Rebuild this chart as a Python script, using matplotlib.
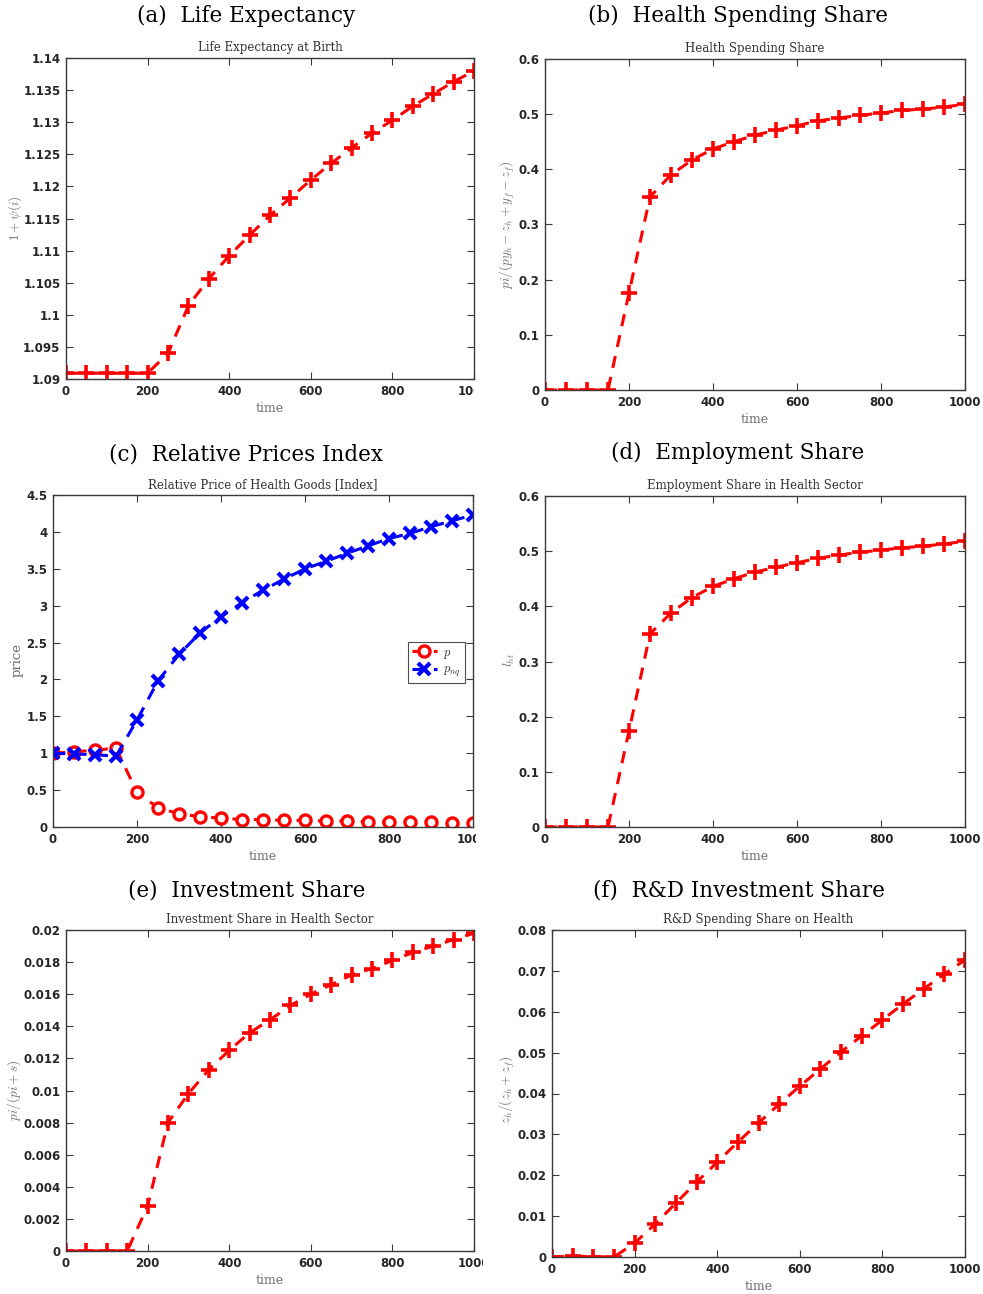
import matplotlib
matplotlib.use('Agg')
import matplotlib.pyplot as plt
from matplotlib.transforms import Bbox

plt.rcParams['mathtext.fontset'] = 'cm'

time = [0, 50, 100, 150, 200, 250, 300, 350, 400, 450, 500, 550, 600, 650, 700,
        750, 800, 850, 900, 950, 1000]

life_exp = [1.0909, 1.0909, 1.0909, 1.0909, 1.0909, 1.0940, 1.1014, 1.1056, 1.1092,
            1.1124, 1.1155, 1.1182, 1.1210, 1.1236, 1.1260, 1.1283, 1.1303, 1.1325,
            1.1344, 1.1363, 1.1380]

health_share = [0, 0, 0, 0, 0.176, 0.350, 0.390, 0.417, 0.437, 0.450, 0.462, 0.471,
                0.479, 0.488, 0.493, 0.498, 0.502, 0.507, 0.509, 0.513, 0.518]

price_p = [1.0, 1.02, 1.04, 1.07, 0.47, 0.26, 0.18, 0.14, 0.12, 0.10, 0.10, 0.09, 0.09,
           0.08, 0.08, 0.07, 0.07, 0.07, 0.07, 0.06, 0.06]

price_pnq = [1.0, 0.99, 0.98, 0.96, 1.45, 1.98, 2.34, 2.63, 2.85, 3.04, 3.21, 3.36, 3.50,
             3.60, 3.71, 3.81, 3.91, 3.98, 4.07, 4.15, 4.23]

emp_share = [0, 0, 0, 0, 0.174, 0.350, 0.388, 0.416, 0.436, 0.450, 0.462, 0.471,
             0.479, 0.487, 0.493, 0.498, 0.502, 0.506, 0.509, 0.513, 0.518]

inv_share = [0, 0, 0, 0, 0.0028, 0.0080, 0.0098, 0.0113, 0.0125, 0.0136, 0.0144, 0.0153,
             0.0160, 0.0166, 0.0172, 0.0176, 0.0181, 0.0186, 0.0190, 0.0194, 0.0198]

rd_share = [0, 0.0002, 0.0001, 0, 0.0034, 0.0081, 0.0132, 0.0183, 0.0232, 0.0281, 0.0328,
            0.0374, 0.0418, 0.0460, 0.0502, 0.0541, 0.0580, 0.0619, 0.0656, 0.0692, 0.0727]

W, H = 983, 1294
fig = plt.figure(figsize=(W / 100, H / 100), dpi=100)

tick_col = '#262626'
lab_col = '#707070'


def make_ax(x0, y0, x1, y1):
    return fig.add_axes([x0 / W, 1 - y1 / H, (x1 - x0) / W, (y1 - y0) / H])


def style(ax, sub, ylab, ylim, yticks, yticklabels, ylab_xy, clip_x=None):
    ax.set_xlim(0, 1000)
    ax.set_ylim(*ylim)
    ax.set_xticks([0, 200, 400, 600, 800, 1000])
    ax.set_xticklabels(['0', '200', '400', '600', '800', '1000'])
    ax.set_yticks(yticks)
    ax.set_yticklabels(yticklabels)
    ax.tick_params(direction='in', length=5, width=0.8, top=True, right=True,
                   colors='#3a3a3a', labelcolor=tick_col, labelsize=8.5, pad=4)
    for lab in ax.get_xticklabels() + ax.get_yticklabels():
        lab.set_fontweight('bold')
        lab.set_family('DejaVu Sans')
    for s in ax.spines.values():
        s.set_color('#3a3a3a')
        s.set_linewidth(1.0)
    ax.set_title(sub, fontsize=8.5, family='DejaVu Serif', color='#333333', pad=5)
    ax.set_xlabel('time', fontsize=9, family='DejaVu Serif', color=lab_col, labelpad=3)
    ax.set_ylabel(ylab, fontsize=9.5, color=lab_col, va='center')
    ax.yaxis.set_label_coords(ylab_xy[0] / W, 1 - ylab_xy[1] / H, transform=fig.transFigure)
    if clip_x is not None:
        t = ax.xaxis.get_major_ticks()[-1].label1
        t.set_clip_on(True)
        t.set_clip_box(Bbox.from_extents(0, 0, clip_x, H))


dash = (4.0, 3.0)
line_kw = dict(color='red', linestyle='--', dashes=dash, linewidth=2.2,
               marker='+', markersize=11, markeredgewidth=2.6)

big_kw = dict(fontsize=15.5, family='DejaVu Serif', ha='center', va='center', color='black')

# (a)
ax = make_ax(66, 58, 474, 379)
ax.plot(time, life_exp, **line_kw)
yt = [1.09, 1.095, 1.1, 1.105, 1.11, 1.115, 1.12, 1.125, 1.13, 1.135, 1.14]
style(ax, 'Life Expectancy at Birth', r'$1+\psi(i)$', (1.09, 1.14), yt,
      ['1.09', '1.095', '1.1', '1.105', '1.11', '1.115', '1.12', '1.125', '1.13', '1.135', '1.14'],
      (15, 218), clip_x=474)
fig.text(246 / W, 1 - 16 / H, '(a)  Life Expectancy', **big_kw)

# (b)
ax = make_ax(545, 59, 965, 390)
ax.plot(time, health_share, **line_kw)
yt = [0, 0.1, 0.2, 0.3, 0.4, 0.5, 0.6]
style(ax, 'Health Spending Share', r'$pi/(py_h-z_h+y_f-z_f)$', (0, 0.6), yt,
      ['0', '0.1', '0.2', '0.3', '0.4', '0.5', '0.6'], (507, 225))
fig.text(738 / W, 1 - 16 / H, '(b)  Health Spending Share', **big_kw)

# (c)
ax = make_ax(53, 495, 473, 827)
ax.plot(time, price_p, color='red', linestyle='--', dashes=dash, linewidth=2.2,
        marker='o', markersize=8, markeredgewidth=2.4, markerfacecolor='white',
        label=r'$p$')
ax.plot(time, price_pnq, color='blue', linestyle='--', dashes=dash, linewidth=2.2,
        marker='x', markersize=9, markeredgewidth=3, label=r'$p_{nq}$')
yt = [0, 0.5, 1, 1.5, 2, 2.5, 3, 3.5, 4, 4.5]
style(ax, 'Relative Price of Health Goods [Index]', 'price', (0, 4.5), yt,
      ['0', '0.5', '1', '1.5', '2', '2.5', '3', '3.5', '4', '4.5'], (17, 660), clip_x=476)
ax.yaxis.label.set_family('DejaVu Serif')
leg = ax.legend(loc='center right', bbox_to_anchor=(0.995, 0.495), fontsize=9,
                frameon=True, fancybox=False, edgecolor='#222222', handlelength=2.0,
                borderpad=0.3, labelspacing=0.2, handletextpad=0.5)
leg.get_frame().set_linewidth(0.8)
for t in leg.get_texts():
    t.set_color('#333333')
fig.text(246 / W, 1 - 455 / H, '(c)  Relative Prices Index', **big_kw)

# (d)
ax = make_ax(545, 496, 965, 827)
ax.plot(time, emp_share, **line_kw)
style(ax, 'Employment Share in Health Sector', r'$l_{ht}$', (0, 0.6),
      [0, 0.1, 0.2, 0.3, 0.4, 0.5, 0.6], ['0', '0.1', '0.2', '0.3', '0.4', '0.5', '0.6'],
      (509, 660))
fig.text(738 / W, 1 - 453 / H, '(d)  Employment Share', **big_kw)

# (e)
ax = make_ax(66, 930, 474, 1251)
ax.plot(time, inv_share, **line_kw)
yt = [0, 0.002, 0.004, 0.006, 0.008, 0.01, 0.012, 0.014, 0.016, 0.018, 0.02]
style(ax, 'Investment Share in Health Sector', r'$pi/(pi+s)$', (0, 0.02), yt,
      ['0', '0.002', '0.004', '0.006', '0.008', '0.01', '0.012', '0.014', '0.016', '0.018', '0.02'],
      (14, 1090), clip_x=483)
fig.text(247 / W, 1 - 890 / H, '(e)  Investment Share', **big_kw)

# (f)
ax = make_ax(552, 930, 965, 1257)
ax.plot(time, rd_share, **line_kw)
yt = [0, 0.01, 0.02, 0.03, 0.04, 0.05, 0.06, 0.07, 0.08]
style(ax, 'R&D Spending Share on Health', r'$z_h/(z_h+z_f)$', (0, 0.08), yt,
      ['0', '0.01', '0.02', '0.03', '0.04', '0.05', '0.06', '0.07', '0.08'], (507, 1090))
fig.text(739 / W, 1 - 890 / H, '(f)  R&D Investment Share', **big_kw)

fig.savefig('out.png', dpi=100)
plt.close()
